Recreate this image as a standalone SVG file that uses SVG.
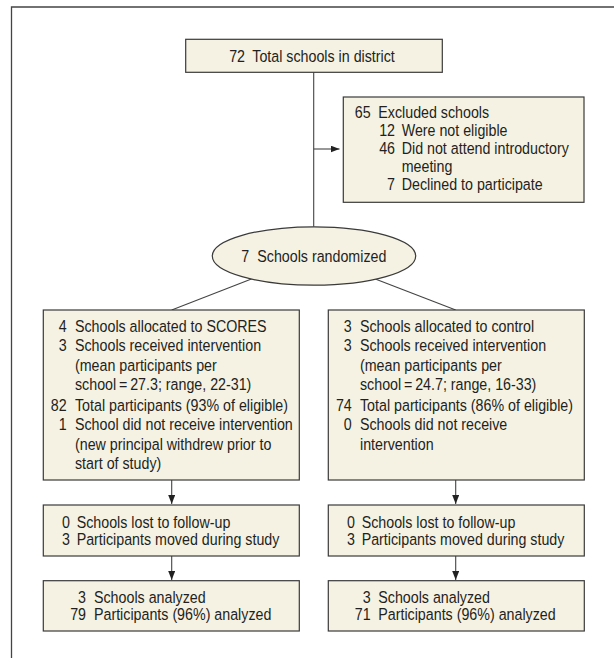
<svg xmlns="http://www.w3.org/2000/svg" width="614" height="658" viewBox="0 0 614 658">
<defs>
<marker id="ah" markerWidth="10" markerHeight="8" refX="9" refY="3.5" orient="auto" markerUnits="userSpaceOnUse">
<path d="M0,0 L9,3.5 L0,7 z" fill="#222"/>
</marker>
<style>
.box{fill:#F5F2E4;stroke:#3a3a3a;stroke-width:1.2}
.ln{fill:none;stroke:#444;stroke-width:1.1}
.frame{fill:none;stroke:#444;stroke-width:1.3}
text{font-family:"Liberation Sans",Arial,sans-serif;font-size:16.3px;fill:#231F20}
.l{transform:scaleX(0.875);transform-box:fill-box;transform-origin:0 0}
.n{text-anchor:end;transform:scaleX(0.875);transform-box:fill-box;transform-origin:100% 0}
</style>
</defs>
<path class="frame" d="M11.5,658 V7 H614"/>
<g id="connectors">
<line class="ln" x1="313.7" y1="72.3" x2="313.7" y2="226.7"/>
<line class="ln" x1="313.7" y1="149" x2="339.5" y2="149" marker-end="url(#ah)"/>
<line class="ln" x1="254" y1="278" x2="171.7" y2="310"/>
<line class="ln" x1="372.7" y1="278" x2="455.7" y2="310"/>
<line class="ln" x1="171.7" y1="480" x2="171.7" y2="504" marker-end="url(#ah)"/>
<line class="ln" x1="171.7" y1="556" x2="171.7" y2="580" marker-end="url(#ah)"/>
<line class="ln" x1="455.7" y1="480" x2="455.7" y2="504" marker-end="url(#ah)"/>
<line class="ln" x1="455.7" y1="556" x2="455.7" y2="580" marker-end="url(#ah)"/>
</g>
<g id="total">
<rect class="box" x="185.7" y="39.3" width="256.6" height="33"/>
<text class="n" x="245" y="62.3">72</text>
<text class="l" x="252.3" y="62.3">Total schools in district</text>
</g>
<g id="excluded">
<rect class="box" x="343.3" y="97" width="240.7" height="105.3"/>
<text class="n" x="370.7" y="118.5">65</text>
<text class="l" x="378.3" y="118.5">Excluded schools</text>
<text class="n" x="395" y="136.5">12</text>
<text class="l" x="401.7" y="136.5">Were not eligible</text>
<text class="n" x="395" y="154.5">46</text>
<text class="l" x="401.7" y="154.5">Did not attend introductory</text>
<text class="l" x="401.7" y="172">meeting</text>
<text class="n" x="395" y="190">7</text>
<text class="l" x="401.7" y="190">Declined to participate</text>
</g>
<g id="randomized">
<ellipse class="box" cx="314" cy="256" rx="101.7" ry="29.2"/>
<text class="n" x="249.3" y="262.3">7</text>
<text class="l" x="257.3" y="262.3">Schools randomized</text>
</g>
<g id="scores">
<rect class="box" x="43.3" y="310" width="256" height="170"/>
<text class="n" x="66.7" y="332">4</text>
<text class="l" x="75" y="332">Schools allocated to SCORES</text>
<text class="n" x="66.7" y="351.5">3</text>
<text class="l" x="75" y="351.5">Schools received intervention</text>
<text class="l" x="75" y="371">(mean participants per</text>
<text class="l" x="75" y="390.5">school&#8201;=&#8201;27.3; range, 22-31)</text>
<text class="n" x="66.7" y="411">82</text>
<text class="l" x="75" y="411">Total participants (93% of eligible)</text>
<text class="n" x="66.7" y="430.5">1</text>
<text class="l" x="75" y="430.5">School did not receive intervention</text>
<text class="l" x="75" y="450">(new principal withdrew prior to</text>
<text class="l" x="75" y="469.5">start of study)</text>
</g>
<g id="control">
<rect class="box" x="328.3" y="310" width="256" height="170"/>
<text class="n" x="351.7" y="332">3</text>
<text class="l" x="360" y="332">Schools allocated to control</text>
<text class="n" x="351.7" y="351.5">3</text>
<text class="l" x="360" y="351.5">Schools received intervention</text>
<text class="l" x="360" y="371">(mean participants per</text>
<text class="l" x="360" y="390.5">school&#8201;=&#8201;24.7; range, 16-33)</text>
<text class="n" x="351.7" y="411">74</text>
<text class="l" x="360" y="411">Total participants (86% of eligible)</text>
<text class="n" x="351.7" y="430.5">0</text>
<text class="l" x="360" y="430.5">Schools did not receive</text>
<text class="l" x="360" y="450">intervention</text>
</g>
<g id="scores-followup">
<rect class="box" x="43.3" y="505" width="256" height="51"/>
<text class="n" x="70" y="528.3">0</text>
<text class="l" x="76.7" y="528.3">Schools lost to follow-up</text>
<text class="n" x="70" y="545">3</text>
<text class="l" x="76.7" y="545">Participants moved during study</text>
</g>
<g id="control-followup">
<rect class="box" x="328.3" y="505" width="256" height="51"/>
<text class="n" x="355" y="528.3">0</text>
<text class="l" x="361.7" y="528.3">Schools lost to follow-up</text>
<text class="n" x="355" y="545">3</text>
<text class="l" x="361.7" y="545">Participants moved during study</text>
</g>
<g id="scores-analyzed">
<rect class="box" x="43.3" y="580.7" width="256" height="50.3"/>
<text class="n" x="86" y="603">3</text>
<text class="l" x="94" y="603">Schools analyzed</text>
<text class="n" x="86" y="620">79</text>
<text class="l" x="94" y="620">Participants (96%) analyzed</text>
</g>
<g id="control-analyzed">
<rect class="box" x="328.3" y="580.7" width="256" height="50.3"/>
<text class="n" x="370.7" y="603">3</text>
<text class="l" x="378.3" y="603">Schools analyzed</text>
<text class="n" x="370.7" y="620">71</text>
<text class="l" x="378.3" y="620">Participants (96%) analyzed</text>
</g>
</svg>
